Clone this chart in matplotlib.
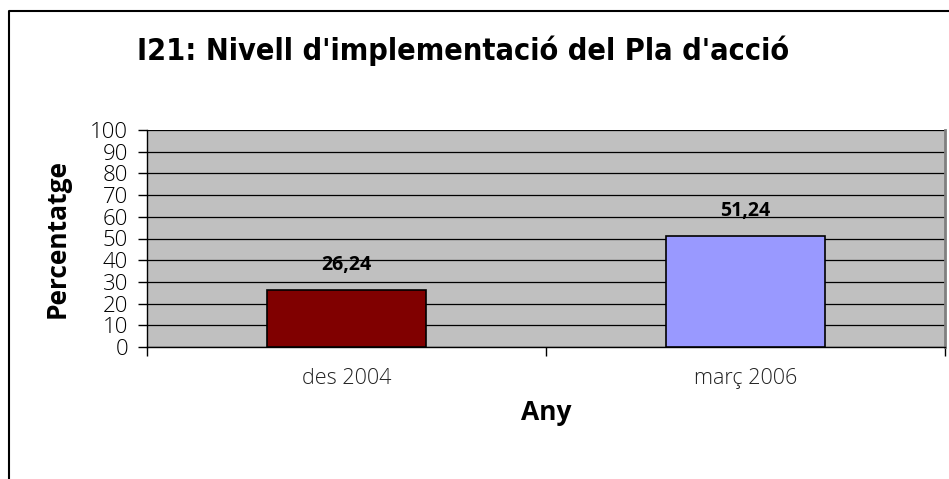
import matplotlib
matplotlib.use("Agg")
import matplotlib.pyplot as plt
from matplotlib.lines import Line2D

# chart data
categories = ["des 2004", "març 2006"]
values = [26.24, 51.24]
value_labels = ["26,24", "51,24"]
bar_colors = ["#800000", "#9999FF"]
yticks = list(range(0, 101, 10))

plt.rcParams['font.family'] = ['Open Sans', 'DejaVu Sans']

fig = plt.figure(figsize=(9.49, 4.79), dpi=100)
ax = fig.add_axes([147 / 949, 1 - 347 / 479, (945 - 147) / 949, (347 - 130) / 479])
ax.set_facecolor("#C0C0C0")

x = list(range(len(categories)))
ax.bar(x, values, width=0.4, color=bar_colors, edgecolor="black", linewidth=1.2, zorder=3)

for xi, v, lab in zip(x, values, value_labels):
    ax.annotate(lab, (xi, v), xytext=(0, 11), textcoords="offset points",
                ha="center", va="bottom", fontsize=14, fontweight="bold")

ax.set_xlim(-0.5, len(categories) - 0.5)
ax.set_ylim(0, 100)
ax.set_yticks(yticks)
ax.set_yticklabels([str(t) for t in yticks], fontsize=16, fontweight="light")
ax.yaxis.grid(True, color="black", linewidth=0.9, zorder=1)
ax.set_axisbelow(True)

# category ticks between groups, labels centred
ax.set_xticks([-0.5, 0.5, 1.5])
ax.set_xticklabels([])
ax.set_xticks(x, minor=True)
ax.set_xticklabels(categories, minor=True, fontsize=15.5, fontweight="light", color="#222222")
ax.tick_params(axis="x", which="minor", length=0, pad=15)
ax.tick_params(axis="x", which="major", length=6.5, width=1)
ax.tick_params(axis="y", length=6.5, width=1, pad=7)

ax.spines["top"].set_visible(False)
ax.spines["right"].set_color("#808080")
ax.spines["right"].set_linewidth(2)
ax.spines["left"].set_linewidth(1)
ax.spines["bottom"].set_linewidth(1)

ax.set_ylabel("Percentatge", fontsize=19, fontweight="bold", labelpad=14)
ax.set_xlabel("Any", fontsize=19, fontweight="bold", labelpad=7)

fig.text(463 / 949, 1 - 51 / 479, "I21: Nivell d'implementació del Pla d'acció",
         ha="center", va="center", fontsize=22, fontweight="bold",
         fontstretch="condensed", family=["DejaVu Sans", "Open Sans"])

# chart frame (top and left edges)
fig.add_artist(Line2D([8.5 / 949, 8.5 / 949, 1.0], [0.0, 1 - 10.5 / 479, 1 - 10.5 / 479],
                      transform=fig.transFigure, color="black", linewidth=1.5))

fig.savefig("out.png", dpi=100)
